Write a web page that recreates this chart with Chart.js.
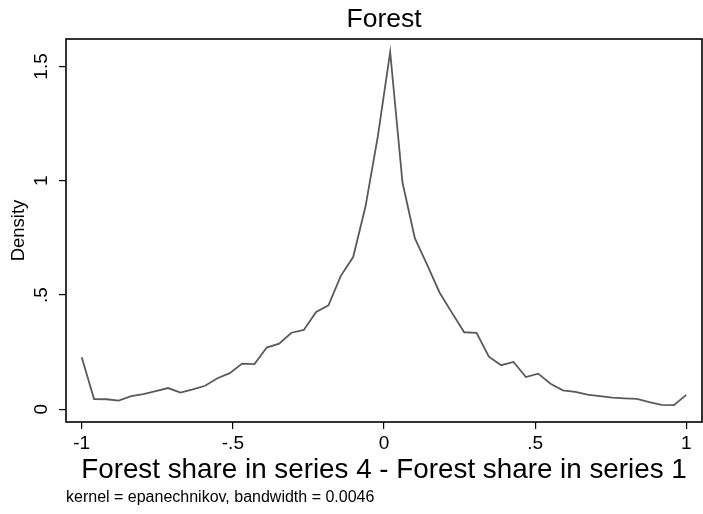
<!DOCTYPE html>
<html>
<head>
<meta charset="utf-8">
<script src="https://cdn.jsdelivr.net/npm/chart.js@4/dist/chart.umd.min.js"></script>
<style>
  html, body { margin: 0; padding: 0; background: #ffffff; }
  #wrap { width: 703px; height: 514px; }
</style>
</head>
<body>
<div id="wrap"><canvas id="c" width="703" height="514"></canvas></div>
<script>
// ---- data ----
const gridX = [-1.0000, -0.9592, -0.9184, -0.8776, -0.8367, -0.7959, -0.7551, -0.7143, -0.6735, -0.6327,
               -0.5918, -0.5510, -0.5102, -0.4694, -0.4286, -0.3878, -0.3469, -0.3061, -0.2653, -0.2245,
               -0.1837, -0.1429, -0.1020, -0.0612, -0.0204, 0.0204, 0.0612, 0.1020, 0.1429, 0.1837,
               0.2245, 0.2653, 0.3061, 0.3469, 0.3878, 0.4286, 0.4694, 0.5102, 0.5510, 0.5918,
               0.6327, 0.6735, 0.7143, 0.7551, 0.7959, 0.8367, 0.8776, 0.9184, 0.9592, 1.0000];
const density = [0.228, 0.045, 0.044, 0.038, 0.058, 0.066, 0.080, 0.093, 0.073, 0.087,
                 0.103, 0.136, 0.158, 0.200, 0.198, 0.270, 0.287, 0.335, 0.347, 0.426,
                 0.455, 0.584, 0.666, 0.887, 1.194, 1.563, 0.992, 0.749, 0.632, 0.511,
                 0.423, 0.337, 0.334, 0.230, 0.193, 0.207, 0.141, 0.156, 0.112, 0.083,
                 0.076, 0.064, 0.058, 0.051, 0.048, 0.046, 0.031, 0.019, 0.018, 0.063];
const xTickValues = [-1, -0.5, 0, 0.5, 1];
const xTickLabels = ["-1", "-.5", "0", ".5", "1"];
const yTickValues = [0, 0.5, 1, 1.5];
const yTickLabels = ["0", ".5", "1", "1.5"];
const titleText = "Forest";
const xTitle = "Forest share in series 4 - Forest share in series 1";
const yTitle = "Density";
const noteText = "kernel = epanechnikov, bandwidth = 0.0046";

const points = gridX.map((x, i) => ({ x: x, y: density[i] }));
const FONT = "'Liberation Sans', Arial, Helvetica, sans-serif";

const framePlugin = {
  id: 'frame',
  afterDraw(chart) {
    const a = chart.chartArea, ctx = chart.ctx;
    ctx.save();
    ctx.strokeStyle = '#000';
    ctx.lineWidth = 1.6;
    ctx.strokeRect(a.left, a.top, a.right - a.left, a.bottom - a.top);
    ctx.restore();
  }
};

new Chart(document.getElementById('c'), {
  type: 'line',
  data: {
    datasets: [{
      data: points,
      borderColor: '#5a5a5a',
      borderWidth: 1.8,
      pointRadius: 0,
      tension: 0,
      fill: false
    }]
  },
  options: {
    responsive: false,
    animation: false,
    devicePixelRatio: 1,
    layout: { padding: { left: 0, right: 1, top: 0, bottom: 0 } },
    plugins: {
      legend: { display: false },
      tooltip: { enabled: false },
      title: {
        display: true, text: titleText, color: '#000', fullSize: false,
        font: { family: FONT, size: 26.5, weight: 'normal', lineHeight: 1.2 },
        padding: { top: 4, bottom: 3.2 }
      },
      subtitle: {
        display: true, text: noteText, position: 'bottom', align: 'start', color: '#000', fullSize: false,
        font: { family: FONT, size: 16, weight: 'normal', lineHeight: 1.2 },
        padding: { top: 0, bottom: 6.4 }
      }
    },
    scales: {
      x: {
        type: 'linear', min: -1.052, max: 1.052,
        afterBuildTicks(s) { s.ticks = xTickValues.map(v => ({ value: v })); },
        afterFit(s) { s.height = 514 - 422 - 25.6; },
        border: { display: false },
        grid: { display: true, drawOnChartArea: false, drawTicks: true, tickLength: 7, color: '#000', lineWidth: 1.2 },
        ticks: {
          color: '#000', padding: 3, maxRotation: 0, minRotation: 0, autoSkip: false,
          font: { family: FONT, size: 19 },
          callback(v) { const i = xTickValues.indexOf(v); return i >= 0 ? xTickLabels[i] : ''; }
        },
        title: {
          display: true, text: xTitle, color: '#000',
          font: { family: FONT, size: 27.8, weight: 'normal', lineHeight: 1.2 },
          padding: { top: 0, bottom: 1.5 }
        }
      },
      y: {
        type: 'linear', min: -0.0556, max: 1.62,
        afterBuildTicks(s) { s.ticks = yTickValues.map(v => ({ value: v })); },
        afterFit(s) { s.width = 66; },
        border: { display: false },
        grid: { display: true, drawOnChartArea: false, drawTicks: true, tickLength: 7, color: '#000', lineWidth: 1.2 },
        ticks: {
          color: '#000', padding: 4, minRotation: 90, maxRotation: 90, crossAlign: 'center', autoSkip: false,
          font: { family: FONT, size: 19 },
          callback(v) { const i = yTickValues.indexOf(v); return i >= 0 ? yTickLabels[i] : ''; }
        },
        title: {
          display: true, text: yTitle, color: '#000',
          font: { family: FONT, size: 18.5, weight: 'normal', lineHeight: 1.2 },
          padding: { top: 8, bottom: 0 }
        }
      }
    }
  },
  plugins: [framePlugin]
});
</script>
</body>
</html>
